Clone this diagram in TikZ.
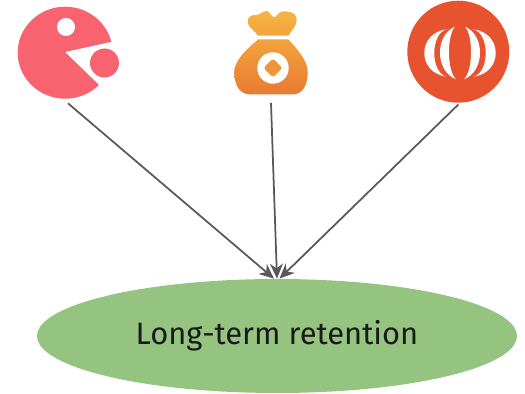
\documentclass[tikz,border=0pt]{standalone}
\usepackage{fontspec}
\setmainfont{Fira Sans}
\usetikzlibrary{arrows.meta,shapes.geometric}
\definecolor{pacred}{HTML}{F7636E}
\definecolor{lanternred}{HTML}{E8532F}
\definecolor{goalgreen}{HTML}{94C47F}
\definecolor{arrowgrey}{HTML}{595959}
\definecolor{knottop}{HTML}{F6B445}
\definecolor{knotbottom}{HTML}{F3A33B}
\definecolor{bagtop}{HTML}{F2A33B}
\definecolor{bagbottom}{HTML}{E97A33}
\definecolor{coinorange}{HTML}{F2953A}
\tikzset{
    icon/.style={inner sep=0pt, minimum width=#1},
    link/.style={draw=arrowgrey, line width=1pt, -{Stealth[length=3mm,width=2.6mm]}},
    rib/.style={fill=white}
}
\begin{document}
\begin{tikzpicture}[x=0.02cm, y=-0.02cm]
    \useasboundingbox (0,0) rectangle (525,394);
    \node[icon=1.9cm, minimum height=1.84cm] (pacman) at (64.5,52) {};
    \node[icon=1.47cm, minimum height=1.66cm] (bag) at (271,52.6) {};
    \node[icon=2.04cm, circle, fill=lanternred] (lantern) at (458.3,51.7) {};
    \node[ellipse, fill=goalgreen, inner sep=0pt, minimum width=9.6cm, minimum height=2.28cm,
        font=\fontsize{17.6}{20}\selectfont, text=black!90] (retention) at (277,336) {Long-term retention};

    % pacman
    \fill[pacred] (65,52) -- (99,85) arc[start angle=44.6, end angle=346.3, x radius=47.5, y radius=46] -- cycle;
    \fill[white] (66,27) circle[radius=9];
    \fill[pacred] (104.5,63) circle[radius=14.5];

    % money bag
    \shade[top color=knottop, bottom color=knotbottom] (247.7,21.7) .. controls (247.7,16) and (252,15) .. (256,15)
        .. controls (260,15) and (263,11) .. (266.7,11) .. controls (270,11) and (271,17) .. (274.3,17.3)
        .. controls (277,17) and (278,12) .. (281.7,11.7) .. controls (286,11) and (296.7,11) .. (296.7,20)
        .. controls (296.7,26) and (291,31) .. (288.3,35.7) -- (257.7,35.7)
        .. controls (255,30) and (247.7,28) .. (247.7,21.7) -- cycle;
    \shade[top color=bagtop, bottom color=bagbottom] (258.3,39.3) -- (288.3,39.3)
        .. controls (296,48) and (307.7,60) .. (307.7,71.7) .. controls (307.7,86) and (302,94.3) .. (293,94.3)
        -- (250,94.3) .. controls (240,94.3) and (234.3,86) .. (234.3,71.7)
        .. controls (234.3,60) and (248,48) .. (258.3,39.3) -- cycle;
    \fill[white] (273,68) circle[radius=15.7];
    \fill[coinorange, rounded corners=1.5] (273,58.5) -- (282.5,68) -- (273,77.5) -- (263.5,68) -- cycle;

    % lantern ribs
    \fill[rib] (446.7,29.3) .. controls (416.8,33) and (416.8,73) .. (446.7,76.7)
        .. controls (430.1,73) and (430.1,33) .. cycle;
    \fill[rib] (455,26.7) .. controls (434.8,35) and (434.8,71) .. (456,79.3)
        .. controls (446.8,71) and (446.8,35) .. cycle;
    \fill[rib] (473.3,29.3) .. controls (503.2,33) and (503.2,73) .. (473.3,76.7)
        .. controls (489.9,73) and (489.9,33) .. cycle;
    \fill[rib] (465,26.7) .. controls (485.2,35) and (485.2,71) .. (464,79.3)
        .. controls (473.2,71) and (473.2,35) .. cycle;

    \draw[link] ([xshift=0.07cm, yshift=-0.1cm]pacman.south) -- ([xshift=-0.06cm]retention.north);
    \draw[link] ([yshift=-0.17cm]bag.south) -- (retention.north);
    \draw[link] ([yshift=-0.03cm]lantern.south) -- ([xshift=0.05cm]retention.north);
\end{tikzpicture}
\end{document}
